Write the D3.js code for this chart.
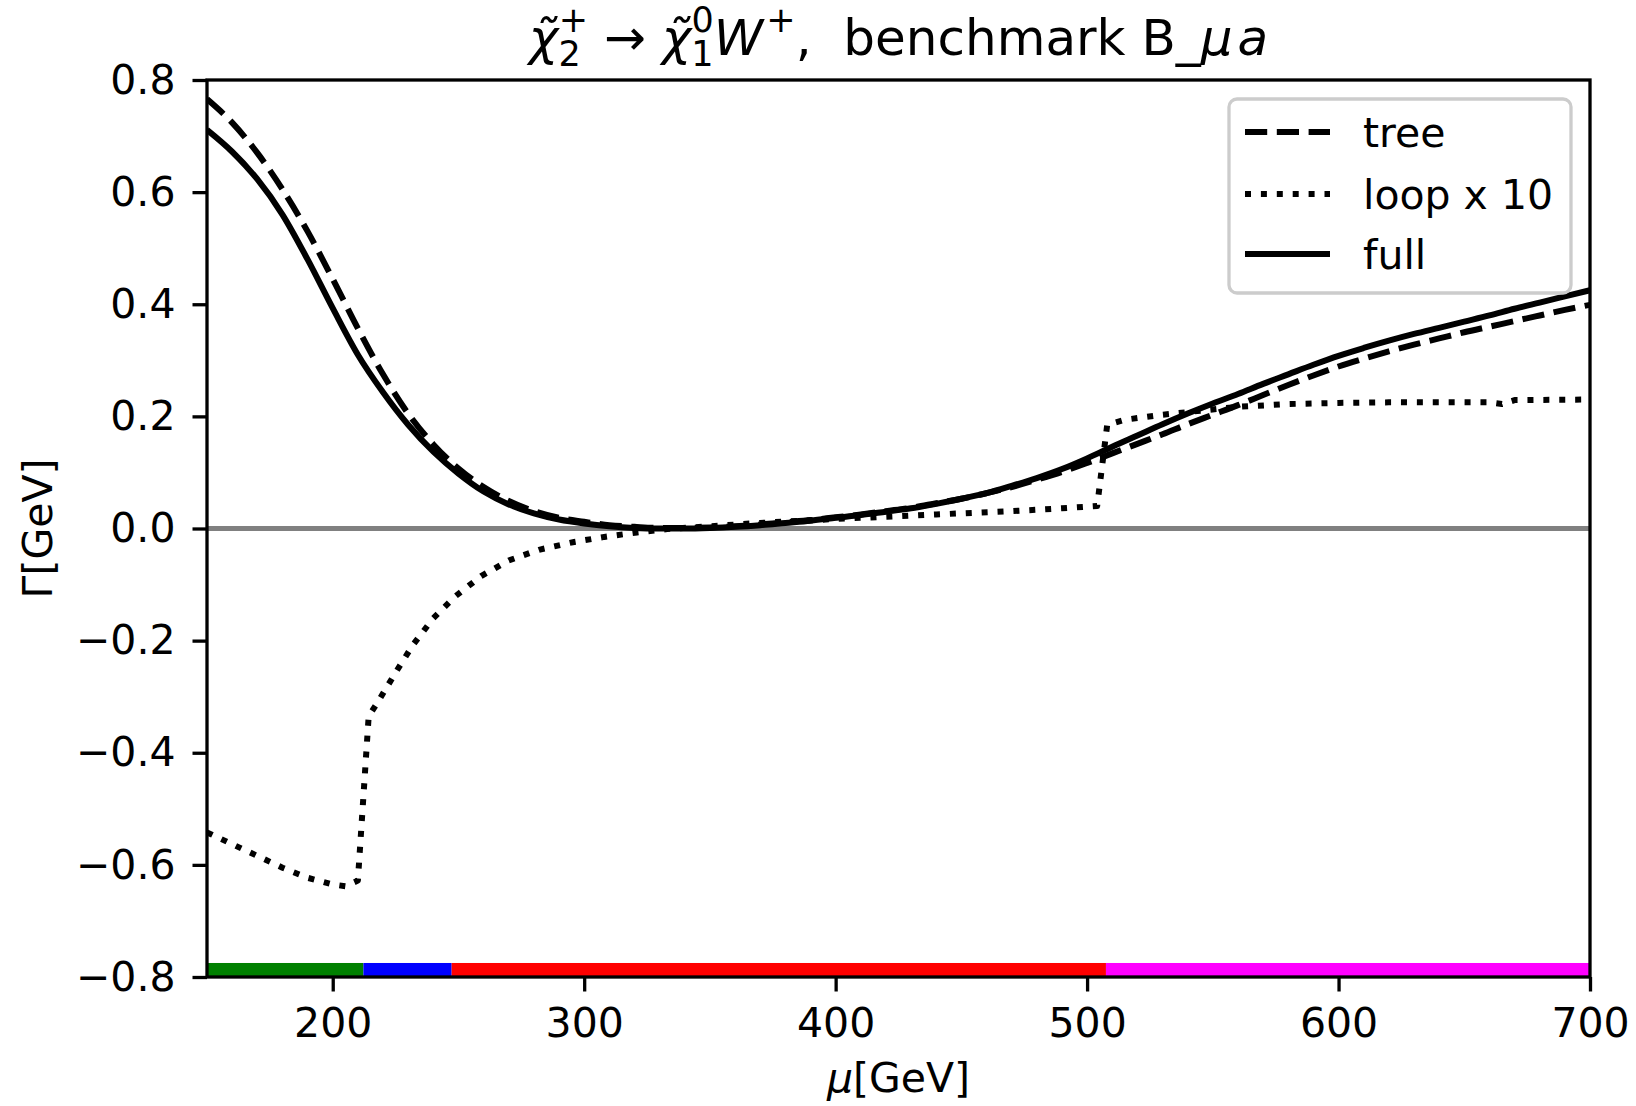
<!DOCTYPE html>
<html><head><meta charset="utf-8">
<script src="https://cdn.jsdelivr.net/npm/d3@7"></script>
<style>
body{margin:0;background:#fff}
text{font-family:"DejaVu Sans",sans-serif;fill:#000}
</style>
</head><body>
<svg id="c" width="1636" height="1106"></svg>
<script>
// ---- data ----
const mu = [150,160,170,180,190,200,210,220,230,240,250,260,270,280,290,300,310,320,330,340,350,360,370,380,390,400,410,420,430,440,450,460,470,480,490,500,510,520,530,540,550,560,570,580,590,600,610,620,630,640,650,660,670,680,690,700];
const treeVals = [0.766,0.724,0.670,0.605,0.530,0.445,0.357,0.275,0.205,0.150,0.107,0.074,0.049,0.031,0.019,0.012,0.006,0.003,0.001,0.001,0.002,0.004,0.007,0.011,0.015,0.020,0.025,0.031,0.037,0.045,0.053,0.063,0.074,0.087,0.101,0.117,0.134,0.151,0.168,0.186,0.203,0.220,0.238,0.256,0.273,0.289,0.303,0.316,0.328,0.339,0.350,0.360,0.370,0.380,0.390,0.399];
const fullVals = [0.711,0.672,0.623,0.560,0.480,0.393,0.310,0.243,0.185,0.137,0.098,0.066,0.043,0.027,0.016,0.009,0.004,0.001,0.000,0.000,0.001,0.003,0.006,0.010,0.014,0.019,0.024,0.030,0.036,0.044,0.053,0.063,0.076,0.090,0.106,0.125,0.146,0.166,0.186,0.205,0.223,0.240,0.258,0.275,0.292,0.308,0.322,0.335,0.347,0.358,0.369,0.380,0.392,0.403,0.414,0.425];
const loopMu = [150,160,170,180,190,200,205,210,214.3,218,225,232,240,249,259,270,282,296,308,321,333,350,370,400,440,470,490,504,508,515,530,545,560,580,600,620,640,660,665,670,700];
const loopVals = [-0.542,-0.563,-0.584,-0.605,-0.623,-0.635,-0.638,-0.628,-0.335,-0.309,-0.257,-0.207,-0.160,-0.120,-0.085,-0.057,-0.038,-0.024,-0.015,-0.007,-0.001,0.004,0.010,0.017,0.025,0.031,0.036,0.040,0.185,0.194,0.203,0.210,0.217,0.222,0.224,0.225,0.225,0.225,0.222,0.229,0.230];
const bandEdges = [150,212.2,247.3,507.5,700];
const bandColors = ["#008000","#0000ff","#ff0000","#ff00ff"];
const bandTop = -0.775;
const xTicks = [200,300,400,500,600,700];
const yTicks = [-0.8,-0.6,-0.4,-0.2,0.0,0.2,0.4,0.6,0.8];
const legendLabels = ["tree","loop x 10","full"];
const legendDash = ["22.2,9.6","6,9.9",null];

// ---- layout ----
const svg = d3.select("#c");
const m = {l:207, r:1590, t:80, b:977};
const x = d3.scaleLinear().domain([150,700]).range([m.l,m.r]);
const y = d3.scaleLinear().domain([-0.8,0.8]).range([m.b,m.t]);
const FS = 41, LW = 6, SW = 3.3;

svg.append("rect").attr("width",1636).attr("height",1106).attr("fill","#fff");

svg.append("defs").append("clipPath").attr("id","clip")
  .append("rect").attr("x",m.l).attr("y",m.t).attr("width",m.r-m.l).attr("height",m.b-m.t);

const plot = svg.append("g").attr("clip-path","url(#clip)");

// coloured band at bottom
const segs = bandColors.map((c,i)=>({x0:bandEdges[i],x1:bandEdges[i+1],c}));
plot.selectAll("rect.band").data(segs).join("rect").attr("class","band")
  .attr("x",d=>x(d.x0)).attr("width",d=>x(d.x1)-x(d.x0))
  .attr("y",y(bandTop)).attr("height",y(-0.8)-y(bandTop))
  .attr("fill",d=>d.c);

// zero line
plot.append("line").attr("x1",x(150)).attr("x2",x(700)).attr("y1",y(0)).attr("y2",y(0))
  .attr("stroke","#808080").attr("stroke-width",5);

const smooth = d3.line().x(d=>x(d[0])).y(d=>y(d[1])).curve(d3.curveMonotoneX);
const lin = d3.line().x(d=>x(d[0])).y(d=>y(d[1]));

plot.append("path").datum(mu.map((v,i)=>[v,treeVals[i]])).attr("d",smooth)
  .attr("fill","none").attr("stroke","#000").attr("stroke-width",LW).attr("stroke-dasharray",legendDash[0]);
plot.append("path").datum(loopMu.map((v,i)=>[v,loopVals[i]])).attr("d",lin)
  .attr("fill","none").attr("stroke","#000").attr("stroke-width",LW).attr("stroke-dasharray",legendDash[1]).attr("stroke-linejoin","round");
plot.append("path").datum(mu.map((v,i)=>[v,fullVals[i]])).attr("d",smooth)
  .attr("fill","none").attr("stroke","#000").attr("stroke-width",LW);

// axes
const fmtY = d => d3.format(".1f")(d).replace("-","\u2212");
const xa = svg.append("g").attr("transform",`translate(0,${m.b})`)
  .call(d3.axisBottom(x).tickValues(xTicks).tickSize(14.5).tickPadding(16).tickFormat(d3.format("d")));
const ya = svg.append("g").attr("transform",`translate(${m.l},0)`)
  .call(d3.axisLeft(y).tickValues(yTicks).tickSize(14.5).tickPadding(17).tickFormat(fmtY));
[xa,ya].forEach(a=>{
  a.select(".domain").remove();
  a.selectAll(".tick line").attr("stroke","#000").attr("stroke-width",SW);
  a.selectAll(".tick text").attr("font-size",FS).attr("font-family","DejaVu Sans").attr("fill","#000");
});

// spines
svg.append("rect").attr("x",m.l).attr("y",m.t).attr("width",m.r-m.l).attr("height",m.b-m.t)
  .attr("fill","none").attr("stroke","#000").attr("stroke-width",SW);

// axis labels
const xl = svg.append("text").attr("x",(m.l+m.r)/2).attr("y",1092).attr("text-anchor","middle").attr("font-size",FS);
xl.append("tspan").attr("font-style","italic").text("\u03bc");
xl.append("tspan").text("[GeV]");
svg.append("text").attr("transform",`translate(52,${(m.t+m.b)/2}) rotate(-90)`)
  .attr("text-anchor","middle").attr("font-size",FS).text("\u0393[GeV]");

// title
const TS = 50, SS = 35, SUB = 11, SUP = 23;
const t = svg.append("text").attr("x",(m.l+m.r)/2).attr("y",55).attr("text-anchor","middle")
  .attr("font-size",TS).style("white-space","pre");
t.append("tspan").attr("font-style","italic").text("\u03c7\u0303");
t.append("tspan").attr("font-size",SS).attr("dy",SUB).text("2");
t.append("tspan").attr("font-size",SS).attr("dx",-22).attr("dy",-(SUB+SUP)).text("+");
t.append("tspan").attr("dy",SUP).text(" \u2192 ");
t.append("tspan").attr("font-style","italic").text("\u03c7\u0303");
t.append("tspan").attr("font-size",SS).attr("dy",SUB).text("1");
t.append("tspan").attr("font-size",SS).attr("dx",-22).attr("dy",-(SUB+SUP)).text("0");
t.append("tspan").attr("font-style","italic").attr("dy",SUP).text("W");
t.append("tspan").attr("font-size",SS).attr("dx",3).attr("dy",-SUP).text("+");
t.append("tspan").attr("dy",SUP).text(",  benchmark B_");
t.append("tspan").attr("font-style","italic").text("\u03bc");
t.append("tspan").attr("font-style","italic").attr("dx",5).text("a");

// legend
const lg = svg.append("g");
lg.append("rect").attr("x",1229).attr("y",99).attr("width",342).attr("height",194).attr("rx",8)
  .attr("fill","#fff").attr("fill-opacity",0.8).attr("stroke","#cccccc").attr("stroke-width",SW);
const rowY = [132,194,254];
legendLabels.forEach((lab,i)=>{
  const ln = lg.append("line").attr("x1",1245).attr("x2",1330).attr("y1",rowY[i]).attr("y2",rowY[i])
    .attr("stroke","#000").attr("stroke-width",LW);
  if (legendDash[i]) ln.attr("stroke-dasharray",legendDash[i]);
  lg.append("text").attr("x",1363).attr("y",rowY[i]+15).attr("font-size",FS).text(lab);
});
</script>
</body></html>
